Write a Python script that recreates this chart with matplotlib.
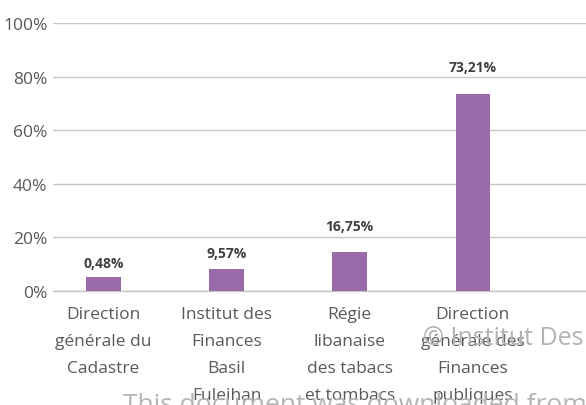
import numpy as np
import matplotlib
matplotlib.use('Agg')
import matplotlib.pyplot as plt
from matplotlib.ticker import FuncFormatter

# ----------------------------------------------------------------------
# Data
categories = ['Direction\ngénérale du\nCadastre',
              'Institut des\nFinances\nBasil\nFuleihan',
              'Régie\nlibanaise\ndes tabacs\net tombacs',
              'Direction\ngénérale des\nFinances\npubliques']
bar_heights = [5.2, 8.2, 14.6, 73.5]          # drawn height of bars (%)
value_labels = ['0,48%', '9,57%', '16,75%', '73,21%']
label_y = [10.4, 14.2, 24.3, 83.6]             # where the labels sit (%)
yticks = [0, 20, 40, 60, 80, 100]

# Styles
plt.rcParams['font.family'] = ['Open Sans', 'DejaVu Sans']
bar_color = '#9b6ba9'
grid_color = '#c6c6c6'
text_color = '#595959'

# ----------------------------------------------------------------------
fig = plt.figure(figsize=(5.86, 4.06), dpi=100)
ax = fig.add_axes([53/586., 1-292/406., 1-53/586., (292-24)/406.])

x = np.arange(len(categories))
ax.bar(x, bar_heights, width=0.28, color=bar_color, zorder=3)

for xi, lab, ly in zip(x, value_labels, label_y):
    ax.text(xi, ly, lab, ha='center', va='center', fontsize=10,
            fontweight='bold', color='#404040', zorder=4)

ax.set_xlim(-0.41, 3.92)
ax.set_ylim(0, 100)
ax.set_yticks(yticks)
ax.yaxis.set_major_formatter(FuncFormatter(lambda v, p: '{:d}%'.format(int(v))))
ax.set_xticks(x)
ax.set_xticklabels(categories, linespacing=1.9)
ax.tick_params(axis='both', length=0, labelsize=12.5, colors=text_color)
ax.tick_params(axis='x', pad=11)
ax.tick_params(axis='y', pad=4)
ax.grid(axis='y', color=grid_color, linewidth=1.0, zorder=0)
for s in ['top', 'right', 'left']:
    ax.spines[s].set_visible(False)
ax.spines['bottom'].set_color(grid_color)
ax.spines['bottom'].set_linewidth(1.0)

# Watermarks
fig.text(423/586., 1-345/406., '\u00a9 Institut Des', fontsize=18,
         color='#b4b4b4', ha='left', va='baseline', zorder=0)
fig.text(123/586., 1-412/406., 'This document was downloaded from th', fontsize=19,
         color='#b4b4b4', ha='left', va='baseline', zorder=0)

fig.savefig('out.png', dpi=100)
